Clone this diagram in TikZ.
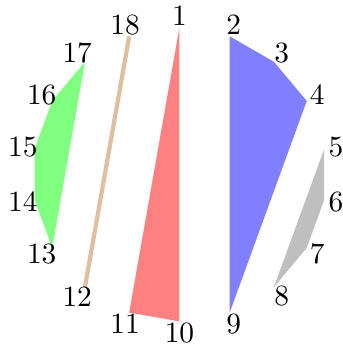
\documentclass[tikz,border=0pt]{standalone}
\usepackage{xcolor}
\usepackage{tikz}
\usetikzlibrary{positioning}
\definecolor{partRed}{HTML}{FF8080}
\definecolor{partBlue}{HTML}{8080FF}
\definecolor{partGreen}{HTML}{80FF80}
\definecolor{partGray}{HTML}{BFBFBF}
\definecolor{partTan}{HTML}{DFBF9F}
\tikzset{
  vlabel/.style={inner sep=0pt, font=\fontsize{10.5}{12.5}\selectfont},
  blockRed/.style={fill=partRed},
  blockBlue/.style={fill=partBlue},
  blockGreen/.style={fill=partGreen},
  blockGray/.style={fill=partGray},
  chord/.style={draw=partTan, line width=1.5pt}
}

\begin{document}
\begin{tikzpicture}
  \useasboundingbox (-64.1pt,-62pt) rectangle (58.4pt,62.3pt);
  % points on the circle
  \foreach \k [evaluate=\k as \ang using {90-20*(\k-1)}] in {1,...,18}
    \coordinate (p\k) at (\ang:52.5pt);

  % blocks of the partition
  \fill[blockRed] (p1) -- (p10) -- (p11) -- cycle;
  \fill[blockBlue] (p2) -- (p3) -- (p4) -- (p9) -- cycle;
  \fill[blockGray] (p5) -- (p6) -- (p7) -- (p8) -- cycle;
  \fill[blockGreen] (p13) -- (p14) -- (p15) -- (p16) -- (p17) -- cycle;
  \draw[chord] (p12) -- (p18);

  % numbers
  \foreach \k [evaluate=\k as \ang using {90-20*(\k-1)}] in {1,...,18}
    \node[vlabel] (n\k) at (\ang:56.8pt) {\k};
\end{tikzpicture}
\end{document}
